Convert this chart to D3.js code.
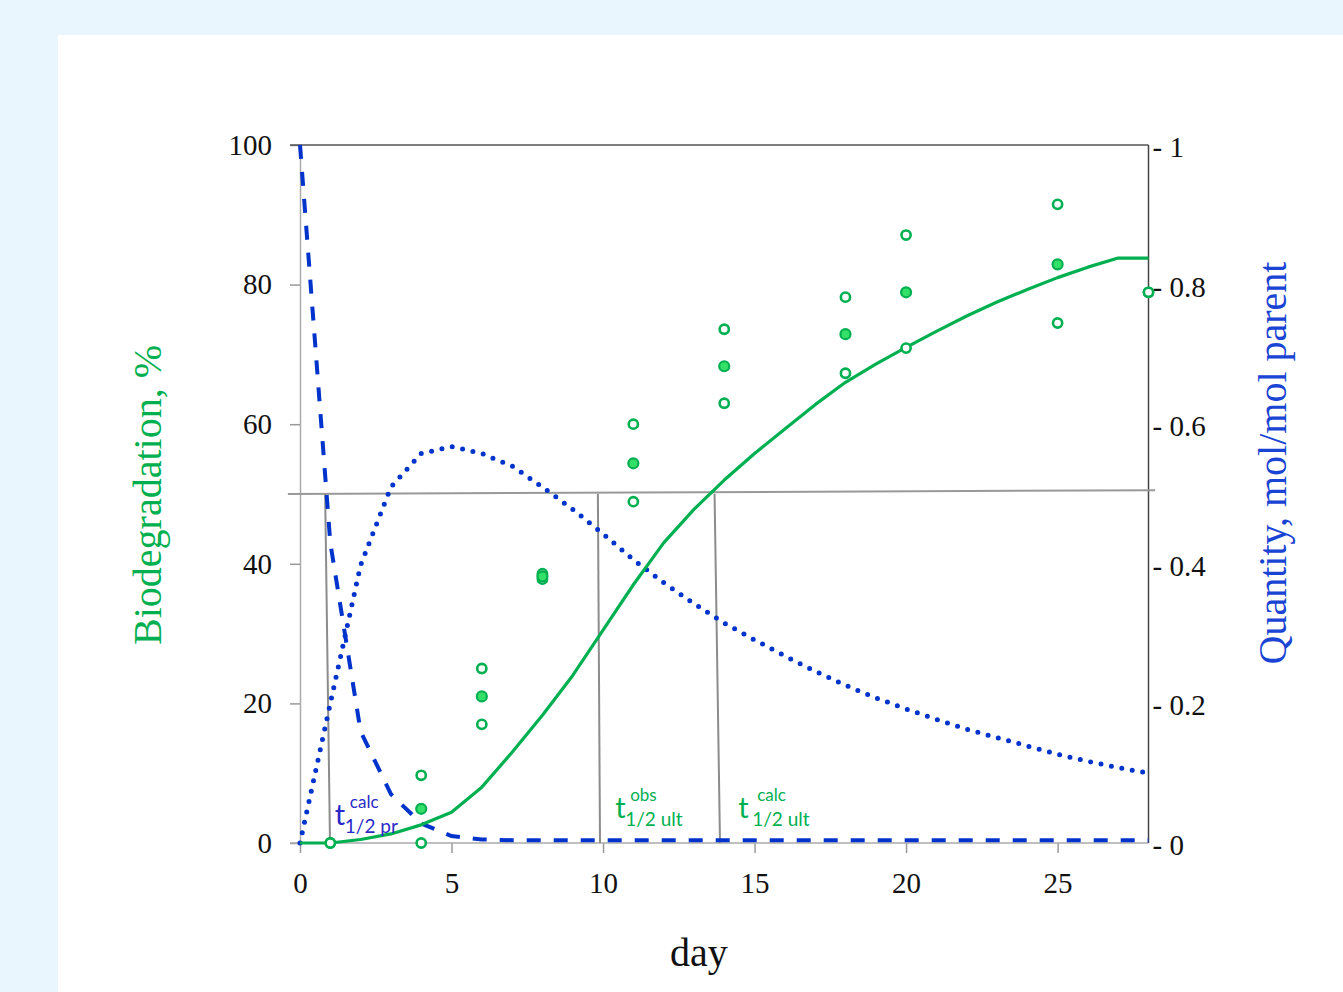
<!DOCTYPE html>
<html>
<head>
<meta charset="utf-8">
<script src="https://cdn.jsdelivr.net/npm/d3@7"></script>
<style>
  html, body { margin: 0; padding: 0; background: #E9F6FE; }
  svg { display: block; }
</style>
</head>
<body>
<svg id="chart" width="1343" height="992"></svg>
<script>
// ---------- data ----------
const days = d3.range(0, 29);                       // model sampling days 0..28
const biodegModel = [0, 0, 0.5, 1.3, 2.6, 4.4, 8, 13, 18.3, 24, 30.5, 37, 43, 47.8, 52,
  55.8, 59.3, 62.8, 66, 68.6, 71, 73.3, 75.5, 77.5, 79.3, 81, 82.5, 83.8, 83.8];
const parentModel = [1.0, 0.43, 0.16, 0.07, 0.028, 0.01, 0.005, 0.004, 0.004, 0.004,
  0.004, 0.004, 0.004, 0.004, 0.004, 0.004, 0.004, 0.004, 0.004, 0.004, 0.004, 0.004,
  0.004, 0.004, 0.004, 0.004, 0.004, 0.004, 0.004];
const metaboliteModel = [0, 0.2, 0.398, 0.51, 0.558, 0.568, 0.558, 0.54, 0.51, 0.478,
  0.443, 0.406, 0.373, 0.343, 0.315, 0.291, 0.268, 0.246, 0.226, 0.208, 0.192, 0.177,
  0.163, 0.151, 0.139, 0.127, 0.117, 0.108, 0.1];

const obsDays = [1, 4, 6, 8, 11, 14, 18, 20, 25, 28];
const obsMean = [null, 4.9, 21, 38.2, 54.4, 68.3, 72.9, 78.9, 82.9, null];
const obsHigh = [0, 9.7, 25, 38.6, 60, 73.6, 78.2, 87.1, 91.5, 78.9];
const obsLow  = [0, 0, 17, 37.8, 48.9, 63, 67.3, 70.9, 74.5, 78.9];

const xTicks = [0, 5, 10, 15, 20, 25];
const yLeftTicks = [0, 20, 40, 60, 80, 100];
const yRightTicks = [0, 0.2, 0.4, 0.6, 0.8, 1];

// half-life guide lines (day at 50% line, day at baseline)
const halfLifeLines = [
  { name: "pr",      dayTop: 0.83, dayBottom: 0.99 },
  { name: "ult_obs", dayTop: 9.83, dayBottom: 9.9 },
  { name: "ult_calc",dayTop: 13.68, dayBottom: 13.86 }
];

// ---------- layout ----------
const svg = d3.select("#chart");
svg.append("rect").attr("x", 58).attr("y", 35).attr("width", 1343 - 58).attr("height", 992 - 35).attr("fill", "#ffffff");

const x = d3.scaleLinear().domain([0, 28]).range([300, 1148.5]);
const yL = d3.scaleLinear().domain([0, 100]).range([843, 145]);
const yR = d3.scaleLinear().domain([0, 1]).range([843, 145]);

const GREEN = "#00B050";
const BLUE = "#0033CC";
const serif = "'Liberation Serif', 'Times New Roman', serif";
const sans = "Lato, 'Open Sans', sans-serif";

// ---------- axes ----------
const gL = svg.append("g").attr("transform", `translate(${x(0)},0)`)
  .call(d3.axisLeft(yL).tickValues(yLeftTicks).tickSize(10).tickSizeOuter(0).tickPadding(18).tickFormat(d3.format("d")));
gL.select(".domain").attr("stroke", "#aaaaaa").attr("stroke-width", 1.5);
gL.selectAll(".tick line").attr("stroke", "#999999").attr("stroke-width", 1.5);
gL.selectAll(".tick text").attr("font-family", serif).attr("font-size", 29).attr("fill", "#111");

const gB = svg.append("g").attr("transform", `translate(0,${yL(0)})`)
  .call(d3.axisBottom(x).tickValues(xTicks).tickSize(10).tickSizeOuter(0).tickPadding(19).tickFormat(d3.format("d")));
gB.select(".domain").remove();
gB.append("line").attr("x1", 290).attr("x2", x(28)).attr("y1", 0).attr("y2", 0)
  .attr("stroke", "#aaaaaa").attr("stroke-width", 1.5);
gB.selectAll(".tick line").attr("stroke", "#999999").attr("stroke-width", 1.5);
gB.selectAll(".tick text").attr("font-family", serif).attr("font-size", 29).attr("fill", "#111");

// top border & right axis line
svg.append("line").attr("x1", 290).attr("x2", x(28)).attr("y1", yL(100)).attr("y2", yL(100))
  .attr("stroke", "#555").attr("stroke-width", 1.5);
svg.append("line").attr("x1", x(28)).attr("x2", x(28)).attr("y1", yL(100)).attr("y2", yL(0))
  .attr("stroke", "#444").attr("stroke-width", 1.5);

// right tick labels ("- 0.8" style)
svg.append("g").selectAll("text").data(yRightTicks).join("text")
  .attr("x", x(28) + 4)
  .attr("y", d => yR(d) + 2)
  .attr("dominant-baseline", "central")
  .attr("font-family", serif).attr("font-size", 29).attr("fill", "#111")
  .text(d => "- " + d3.format("~g")(d));

// axis titles
svg.append("text").attr("transform", `translate(161,${(yL(0) + yL(100)) / 2 + 1}) rotate(-90)`)
  .attr("text-anchor", "middle").attr("font-family", serif).attr("font-size", 40).attr("fill", GREEN)
  .text("Biodegradation, %");
svg.append("text").attr("transform", `translate(1286,463) rotate(-90)`)
  .attr("text-anchor", "middle").attr("font-family", serif).attr("font-size", 40).attr("fill", "#1a44d4")
  .text("Quantity, mol/mol parent");
svg.append("text").attr("x", 699).attr("y", 966)
  .attr("text-anchor", "middle").attr("font-family", serif).attr("font-size", 40).attr("fill", "#111")
  .text("day");

// ---------- reference lines ----------
svg.append("line")
  .attr("x1", x(-0.4)).attr("y1", yL(50)).attr("x2", x(28.22)).attr("y2", yL(50.55))
  .attr("stroke", "#999").attr("stroke-width", 2);
svg.append("g").selectAll("line").data(halfLifeLines).join("line")
  .attr("x1", d => x(d.dayTop)).attr("y1", yL(50.05))
  .attr("x2", d => x(d.dayBottom)).attr("y2", yL(0))
  .attr("stroke", "#8c8c8c").attr("stroke-width", 2);

// ---------- model curves ----------
const lineL = d3.line().x((d, i) => x(days[i])).y(d => yL(d));
const lineR = d3.line().x((d, i) => x(days[i])).y(d => yR(d));

svg.append("path").datum(metaboliteModel).attr("d", lineR)
  .attr("fill", "none").attr("stroke", BLUE).attr("stroke-width", 5)
  .attr("stroke-linecap", "round").attr("stroke-dasharray", "0 10.6");

svg.append("path").datum(parentModel).attr("d", lineR)
  .attr("fill", "none").attr("stroke", BLUE).attr("stroke-width", 4)
  .attr("stroke-dasharray", "14 13");

svg.append("path").datum(biodegModel).attr("d", lineL)
  .attr("fill", "none").attr("stroke", GREEN).attr("stroke-width", 3.2)
  .attr("stroke-linejoin", "round");

// ---------- observations ----------
const openPts = [];
obsDays.forEach((d, i) => {
  if (obsHigh[i] != null) openPts.push({ d, v: obsHigh[i] });
  if (obsLow[i] != null) openPts.push({ d, v: obsLow[i] });
});
const meanPts = obsDays.map((d, i) => ({ d, v: obsMean[i] })).filter(p => p.v != null);

svg.append("g").selectAll("circle").data(openPts).join("circle")
  .attr("cx", p => x(p.d)).attr("cy", p => yL(p.v)).attr("r", 4.6)
  .attr("fill", "#fff").attr("stroke", GREEN).attr("stroke-width", 2.6);
svg.append("g").selectAll("circle").data(meanPts).join("circle")
  .attr("cx", p => x(p.d)).attr("cy", p => yL(p.v)).attr("r", 5)
  .attr("fill", "#35E068").attr("stroke", GREEN).attr("stroke-width", 2.2);

// ---------- half-life annotations ----------
function halfLabel(day, val, sup, sub, color, supDx, subDx) {
  const g = svg.append("g").attr("fill", color).attr("font-family", sans);
  const bx = x(day), by = yL(val);
  g.append("text").attr("x", bx).attr("y", by).attr("font-size", 29).text("t");
  g.append("text").attr("x", bx + supDx).attr("y", by - 17).attr("font-size", 17).text(sup);
  g.append("text").attr("x", bx + subDx).attr("y", by + 8).attr("font-size", 19).text(sub);
}
halfLabel(1.15, 2.6, "calc", "1/2 pr", "#2a2ac8", 15, 10);
halfLabel(10.4, 3.6, "obs", "1/2 ult", GREEN, 15, 10);
halfLabel(14.46, 3.6, "calc", "1/2 ult", GREEN, 19, 14);
</script>
</body>
</html>
